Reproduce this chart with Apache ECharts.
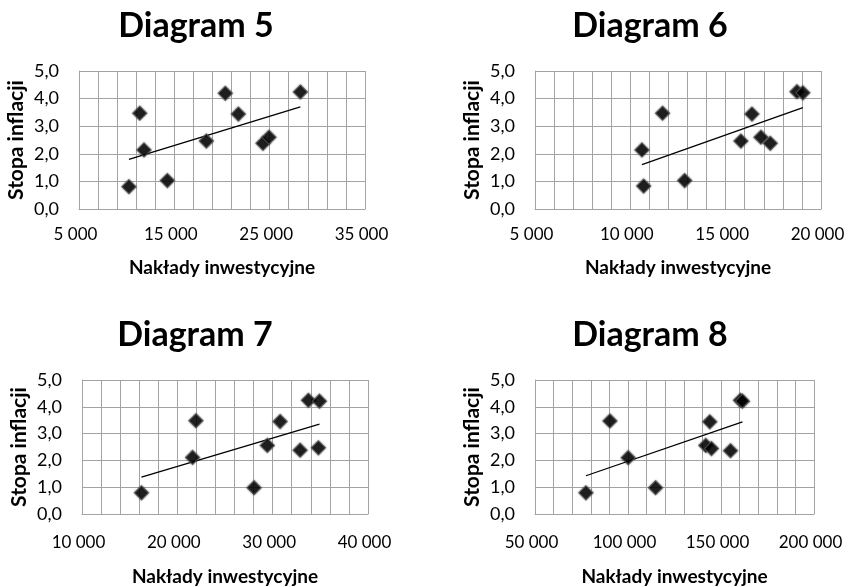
<!DOCTYPE html>
<html><head><meta charset="utf-8">
<script src="https://cdn.jsdelivr.net/npm/echarts@6/dist/echarts.min.js"></script>
<style>html,body{margin:0;padding:0;background:#fff}#c{width:852px;height:587px}</style>
</head><body><div id="c"></div>
<script>
// ---- data ----
const titles = ['Diagram 5', 'Diagram 6', 'Diagram 7', 'Diagram 8'];
const yName = 'Stopa inflacji';
const xName = 'Nakłady inwestycyjne';
const yTickLabels = ['0,0', '1,0', '2,0', '3,0', '4,0', '5,0'];

const x5 = [10240, 11370, 11820, 14270, 18360, 20350, 21720, 24300, 24930, 28220];
const y5 = [0.81, 3.47, 2.14, 1.03, 2.46, 4.19, 3.44, 2.38, 2.60, 4.24];
const x6 = [10610, 10700, 11690, 12850, 15800, 16380, 16850, 17340, 18740, 19050];
const y6 = [2.14, 0.83, 3.47, 1.03, 2.46, 3.44, 2.60, 2.38, 4.25, 4.21];
const x7 = [16240, 21600, 21950, 28050, 29440, 30780, 32880, 33750, 34800, 34910];
const y7 = [0.79, 2.11, 3.48, 0.98, 2.56, 3.45, 2.38, 4.24, 2.47, 4.21];
const x8 = [77390, 90280, 100110, 114820, 141840, 143990, 144880, 155100, 160470, 161550];
const y8 = [0.79, 3.47, 2.10, 0.98, 2.56, 3.44, 2.44, 2.36, 4.24, 4.21];

const xMin = [5000, 5000, 10000, 50000];
const xMax = [35000, 20000, 40000, 200000];
const xStep = [10000, 5000, 10000, 50000];
const xTickLabels5 = ['5 000', '15 000', '25 000', '35 000'];
const xTickLabels6 = ['5 000', '10 000', '15 000', '20 000'];
const xTickLabels7 = ['10 000', '20 000', '30 000', '40 000'];
const xTickLabels8 = ['50 000', '100 000', '150 000', '200 000'];

// ---- build ----
const xs = [x5, x6, x7, x8];
const ys = [y5, y6, y7, y8];
const xLabels = [xTickLabels5, xTickLabels6, xTickLabels7, xTickLabels8];

const grids = [
  {left: 79, top: 71, width: 286, height: 138},
  {left: 535, top: 71, width: 286, height: 138},
  {left: 82, top: 380, width: 286, height: 137},
  {left: 535, top: 380, width: 279, height: 137}
];
const titlePos = [[196, 9], [650, 9], [195, 318], [650, 318]];
const labelMargin = [17, 17, 20, 20];
const nameGapX = [49, 49, 53, 53];

const FONT = 'Lato';
const GRID_COLOR = '#a3a3a3';

function regression(x, y) {
  const n = x.length;
  let mx = 0, my = 0;
  for (let i = 0; i < n; i++) { mx += x[i]; my += y[i]; }
  mx /= n; my /= n;
  let sxy = 0, sxx = 0;
  for (let i = 0; i < n; i++) { sxy += (x[i] - mx) * (y[i] - my); sxx += (x[i] - mx) * (x[i] - mx); }
  const b = sxy / sxx, a = my - b * mx;
  const lo = Math.min.apply(null, x), hi = Math.max.apply(null, x);
  return [[lo, a + b * lo], [hi, a + b * hi]];
}

const option = {
  animation: false,
  backgroundColor: '#fff',
  title: titles.map((t, i) => ({
    text: t, left: titlePos[i][0], top: titlePos[i][1], textAlign: 'center', padding: 0,
    textStyle: {fontFamily: FONT, fontWeight: 'bold', fontSize: 34, color: '#000'}
  })),
  grid: grids.map(g => Object.assign({containLabel: false}, g)),
  xAxis: titles.map((t, i) => ({
    type: 'value', gridIndex: i, min: xMin[i], max: xMax[i], interval: xStep[i],
    name: xName, nameLocation: 'middle', nameGap: nameGapX[i],
    nameTextStyle: {fontFamily: FONT, fontWeight: 'bold', fontSize: 19, color: '#000'},
    axisLine: {show: true, lineStyle: {color: GRID_COLOR, width: 1}},
    axisTick: {show: false},
    minorTick: {show: false, splitNumber: 5},
    splitLine: {show: true, lineStyle: {color: GRID_COLOR, width: 1}},
    minorSplitLine: {show: true, lineStyle: {color: GRID_COLOR, width: 1}},
    axisLabel: {
      margin: labelMargin[i], fontFamily: FONT, fontSize: 17, color: '#000',
      padding: [0, 7, 0, 0],
      formatter: v => xLabels[i][Math.round((v - xMin[i]) / xStep[i])] || ''
    }
  })),
  yAxis: titles.map((t, i) => ({
    type: 'value', gridIndex: i, min: 0, max: 5, interval: 1,
    name: yName, nameLocation: 'middle', nameGap: 52, nameRotate: 90,
    nameTextStyle: {fontFamily: FONT, fontWeight: 'bold', fontSize: 21, color: '#000'},
    axisLine: {show: true, lineStyle: {color: GRID_COLOR, width: 1}},
    axisTick: {show: false},
    splitLine: {show: true, lineStyle: {color: GRID_COLOR, width: 1}},
    axisLabel: {
      margin: 20, fontFamily: FONT, fontSize: 18, color: '#000',
      formatter: v => yTickLabels[Math.round(v)]
    }
  })),
  series: []
};

titles.forEach((t, i) => {
  option.series.push({
    type: 'line', xAxisIndex: i, yAxisIndex: i, data: regression(xs[i], ys[i]),
    showSymbol: false, symbol: 'none', silent: true, z: 2,
    lineStyle: {color: '#000', width: 1.3}
  });
  option.series.push({
    type: 'scatter', xAxisIndex: i, yAxisIndex: i, z: 3,
    data: xs[i].map((x, k) => [x, ys[i][k]]),
    symbol: 'diamond', symbolSize: 14,
    itemStyle: {color: '#000', borderColor: '#555', borderWidth: 1.2,
      shadowBlur: 2, shadowColor: 'rgba(0,0,0,0.5)'}
  });
});

const chart = echarts.init(document.getElementById('c'), null, {renderer: 'canvas'});
chart.setOption(option);
</script>
</body></html>
